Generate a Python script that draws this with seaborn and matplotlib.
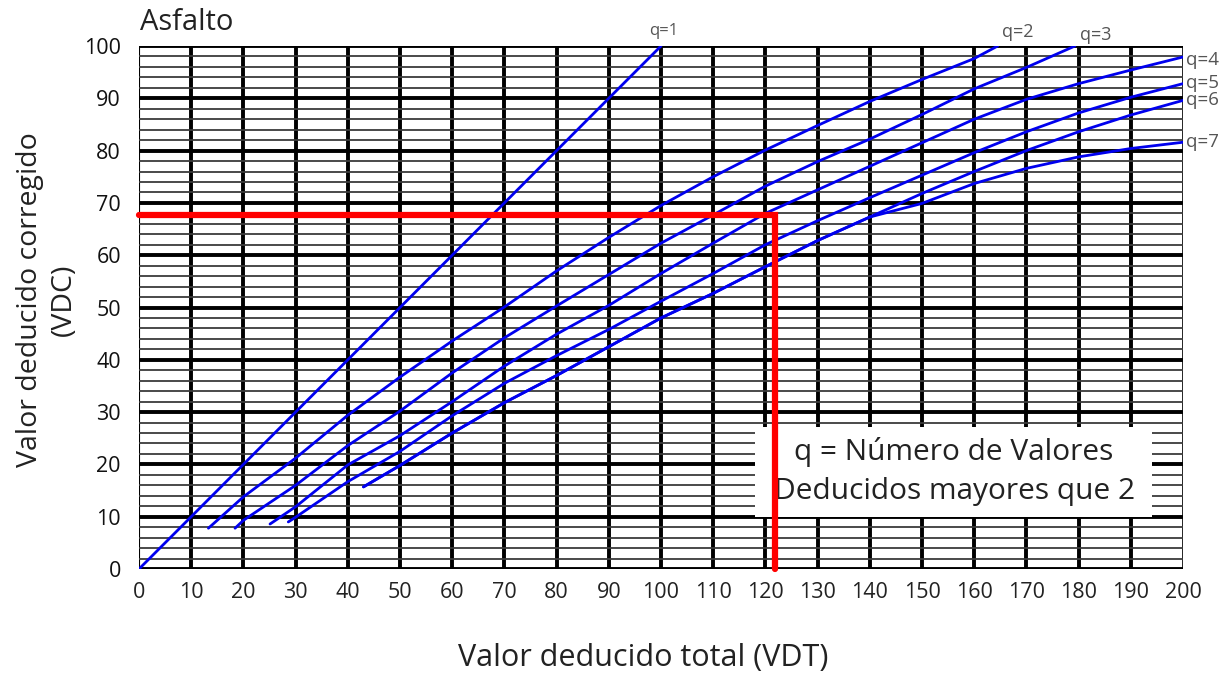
import pandas as pd
import matplotlib
matplotlib.use("Agg")
import matplotlib.pyplot as plt
from matplotlib.patches import Rectangle
import seaborn as sns

# curve readings (VDT -> VDC) for each q
q1_x = [0, 10, 20, 30, 40, 50, 60, 70, 80, 90, 100]
q1_y = [0, 10, 20, 30, 40, 50, 60, 70, 80, 90, 100]

q2_x = [13.3, 20, 30, 40, 50, 60, 70, 80, 90, 100, 110, 120, 130, 140, 150, 160, 164.5]
q2_y = [7.8, 13.8, 21.2, 29.4, 36.7, 43.6, 50.1, 57.0, 63.4, 69.5, 75.0, 80.1, 84.8, 89.4, 93.6, 97.6, 100]

q3_x = [18.4, 20, 30, 40, 50, 60, 70, 80, 90, 100, 110, 120, 130, 140, 150, 160, 170, 179.3]
q3_y = [7.8, 9.3, 16.0, 23.6, 30.2, 37.5, 44.2, 50.3, 56.3, 62.3, 67.7, 73.2, 77.9, 82.2, 86.9, 91.8, 95.9, 100]

q4_x = [25.1, 30, 40, 50, 60, 70, 80, 90, 100, 110, 120, 130, 140, 150, 160, 170, 180, 190, 200]
q4_y = [8.6, 11.9, 19.9, 25.5, 32.0, 38.8, 44.9, 50.4, 56.5, 62.3, 68.0, 72.5, 77.0, 81.5, 86.0, 89.8, 92.8, 95.4, 97.9]

q5_x = [28.6, 30, 40, 50, 60, 70, 80, 90, 100, 110, 120, 130, 140, 150, 160, 170, 180, 190, 200]
q5_y = [9.0, 9.9, 16.7, 22.5, 29.3, 35.5, 40.8, 45.8, 51.2, 56.5, 62.0, 66.6, 71.0, 75.3, 79.6, 83.6, 87.2, 90.2, 92.8]

q6_x = [43, 50, 60, 70, 80, 90, 100, 110, 120, 130, 140, 150, 160, 170, 180, 190, 200]
q6_y = [15.7, 19.8, 26.0, 31.8, 37.0, 42.5, 48.0, 52.7, 57.8, 62.8, 67.3, 71.8, 76.0, 80.0, 83.6, 86.8, 89.6]

q7_x = [43, 50, 60, 70, 80, 90, 100, 110, 120, 130, 140, 150, 160, 170, 180, 190, 200]
q7_y = [15.7, 19.8, 26.0, 31.8, 37.0, 42.5, 48.0, 52.7, 57.8, 62.8, 67.3, 69.9, 73.7, 76.6, 78.8, 80.4, 81.6]

# example reading drawn in red
vdt_total = 121.8
vdc_result = 67.6

curves = {1: (q1_x, q1_y), 2: (q2_x, q2_y), 3: (q3_x, q3_y), 4: (q4_x, q4_y),
          5: (q5_x, q5_y), 6: (q6_x, q6_y), 7: (q7_x, q7_y)}
frames = [pd.DataFrame({"VDT": xs, "VDC": ys, "q": q}) for q, (xs, ys) in curves.items()]
df = pd.concat(frames, ignore_index=True)

sns.set_style("white")
plt.rcParams["font.family"] = ["Open Sans", "DejaVu Sans"]

fig = plt.figure(figsize=(12.25, 6.77), dpi=100)
ax = fig.add_axes([139 / 1225, 1 - 569 / 677, 1044 / 1225, 523 / 677])

sns.lineplot(data=df, x="VDT", y="VDC", hue="q", palette=["#0000ee"] * 7,
             sort=False, estimator=None, legend=False, linewidth=2, ax=ax, zorder=3)

ax.set_xlim(0, 200)
ax.set_ylim(0, 100)
ax.set_xticks(range(0, 201, 10))
ax.set_yticks(range(0, 101, 10))
ax.set_yticks(range(0, 101, 2), minor=True)
ax.set_axisbelow(True)
ax.grid(which="minor", axis="y", color="#3a3a3a", linewidth=1.3)
ax.grid(which="major", axis="both", color="black", linewidth=2.8)
xgl = ax.xaxis.get_gridlines()
xgl[0].set_linewidth(0.8)
xgl[-1].set_linewidth(1.2)
for s in ax.spines.values():
    s.set_visible(False)

ax.tick_params(axis="both", which="major", direction="out", width=1, color="#333333")
ax.tick_params(axis="y", which="minor", length=0)
ax.tick_params(axis="x", length=4, labelsize=15.5, pad=5, labelcolor="#222222")
ax.tick_params(axis="y", length=7, labelsize=15.5, pad=6, labelcolor="#111111")
ax.set_xlabel("")
ax.set_ylabel("")

# note box
ax.add_patch(Rectangle((118, 9.9), 76, 17.3, facecolor="white", edgecolor="none", zorder=4))
ax.text(156, 22.3, "q = Número de Valores", ha="center", va="center", fontsize=21.5,
        color="#222222", zorder=5)
ax.text(156.3, 14.9, "Deducidos mayores que 2", ha="center", va="center", fontsize=21.5,
        color="#222222", zorder=5)

# red reading lines
ax.plot([0, vdt_total, vdt_total], [vdc_result, vdc_result, 0], color="#ff0000",
        linewidth=4.5, solid_joinstyle="miter", zorder=6, clip_on=False)

# curve labels
lab = dict(color="#555555", va="center", clip_on=False)
ax.text(100.5, 102.8, "q=1", ha="center", fontsize=12, **lab)
ax.text(165.3, 102.6, "q=2", ha="left", fontsize=13, **lab)
ax.text(180.3, 102.1, "q=3", ha="left", fontsize=13, **lab)
ax.text(200.6, 97.4, "q=4", ha="left", fontsize=13.5, **lab)
ax.text(200.6, 93.0, "q=5", ha="left", fontsize=13.5, **lab)
ax.text(200.6, 89.6, "q=6", ha="left", fontsize=13.5, **lab)
ax.text(200.6, 81.7, "q=7", ha="left", fontsize=13.5, **lab)

fig.text(140 / 1225, 1 - 22 / 677, "Asfalto", ha="left", va="center", fontsize=21, color="#222222")
fig.text(47 / 1225, 1 - 300 / 677, "Valor deducido corregido\n(VDC)", rotation=90,
         ha="center", va="center", multialignment="center", fontsize=20.5,
         color="#222222", linespacing=1.25)
fig.text(643 / 1225, 1 - 658 / 677, "Valor deducido total (VDT)", ha="center", va="center",
         fontsize=22, color="#222222")

fig.savefig("out.png", dpi=100)
